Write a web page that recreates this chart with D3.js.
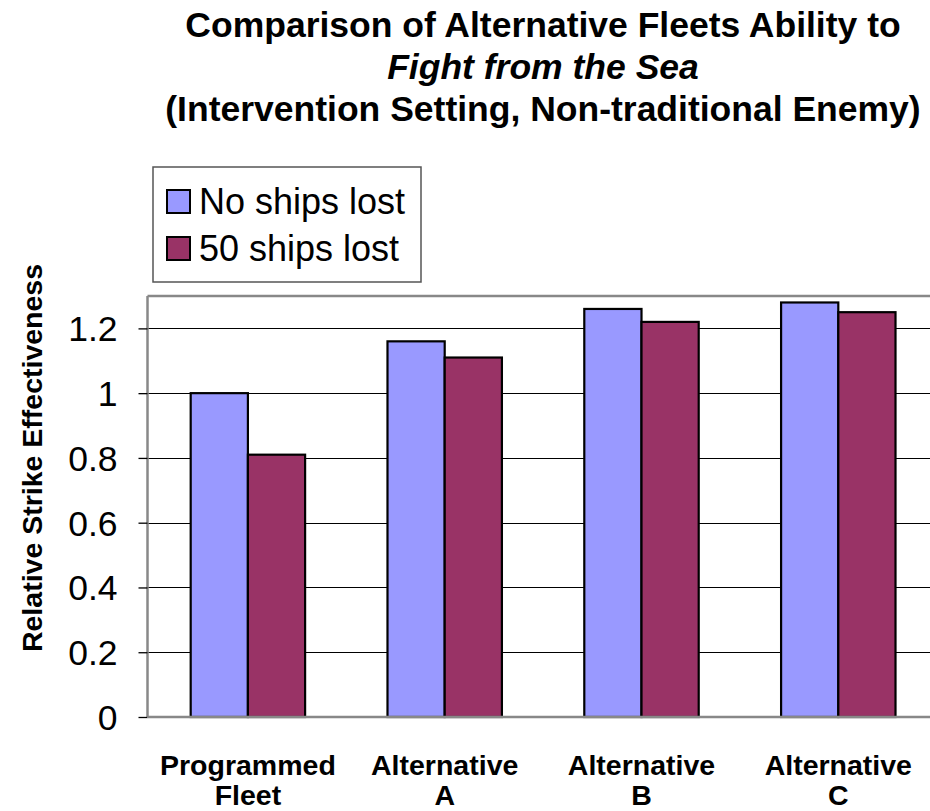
<!DOCTYPE html>
<html>
<head>
<meta charset="utf-8">
<script src="https://cdn.jsdelivr.net/npm/d3@7"></script>
<style>
  html, body { margin: 0; padding: 0; background: #fff; }
  svg { display: block; font-family: "Liberation Sans", Arial, sans-serif; }
</style>
</head>
<body>
<svg id="chart" width="930" height="811"></svg>
<script>
const categories = [["Programmed", "Fleet"], ["Alternative", "A"], ["Alternative", "B"], ["Alternative", "C"]];
const seriesNames = ["No ships lost", "50 ships lost"];
const noShipsLost = [1.00, 1.16, 1.26, 1.28];
const fiftyShipsLost = [0.81, 1.11, 1.22, 1.25];
const yTicks = [0, 0.2, 0.4, 0.6, 0.8, 1, 1.2];
const yMax = 1.3;
const colors = ["#9999FF", "#993366"];
const titleLines = ["Comparison of Alternative Fleets Ability to", "Fight from the Sea", "(Intervention Setting, Non-traditional Enemy)"];
const yTitle = "Relative Strike Effectiveness";

const svg = d3.select("#chart");
const W = 930;
const plot = { left: 147.5, top: 296, bottom: 717 };
const catKeys = categories.map((c, i) => "c" + i);
const step = 196.8;

const x0 = d3.scaleBand().domain(catKeys).range([149.5, 149.5 + step * 4]).padding(0);
const x1 = d3.scaleBand().domain(seriesNames).range([0, x0.bandwidth()]).paddingInner(0).paddingOuter(0.72);
const y = d3.scaleLinear().domain([0, yMax]).range([plot.bottom, plot.top]);

// gridlines
svg.append("g").selectAll("line").data(yTicks.filter(d => d > 0)).join("line")
  .attr("x1", plot.left).attr("x2", W)
  .attr("y1", d => Math.round(y(d)) + 0.5).attr("y2", d => Math.round(y(d)) + 0.5)
  .attr("stroke", "#000").attr("stroke-width", 1.2);

// top border
svg.append("line").attr("x1", plot.left).attr("x2", W)
  .attr("y1", y(yMax)).attr("y2", y(yMax))
  .attr("stroke", "#888").attr("stroke-width", 2.5);

// bars
const data = categories.map((c, i) => ({ key: catKeys[i], vals: [noShipsLost[i], fiftyShipsLost[i]] }));
const groups = svg.append("g").selectAll("g").data(data).join("g")
  .attr("transform", d => `translate(${x0(d.key)},0)`);
groups.selectAll("rect").data(d => d.vals.map((v, j) => ({ v, s: seriesNames[j], j }))).join("rect")
  .attr("x", d => x1(d.s))
  .attr("width", x1.bandwidth())
  .attr("y", d => y(d.v))
  .attr("height", d => y(0) - y(d.v))
  .attr("fill", d => colors[d.j])
  .attr("stroke", "#000").attr("stroke-width", 2.2);

// y axis
const yAxis = d3.axisLeft(y).tickValues(yTicks).tickSize(9).tickPadding(0).tickFormat(d3.format("~g"));
const ya = svg.append("g").attr("transform", `translate(${plot.left},0)`).call(yAxis);
ya.select(".domain").attr("stroke", "#888").attr("stroke-width", 2.5)
  .attr("d", `M0,${plot.top}V${plot.bottom}`);
ya.selectAll(".tick line").attr("stroke", "#000").attr("stroke-width", 1.3);
ya.selectAll(".tick text").attr("x", -30).attr("dy", "0.35em")
  .attr("font-size", 35.5).attr("fill", "#000")
  .attr("font-family", "'Liberation Sans', Arial, sans-serif");

// x axis
const xAxis = d3.axisBottom(x0).tickSize(0).tickFormat("");
const xa = svg.append("g").attr("transform", `translate(0,${plot.bottom})`).call(xAxis);
xa.select(".domain").attr("stroke", "#888").attr("stroke-width", 2.5)
  .attr("d", `M${plot.left},0H${W}`);

// category labels
const catLabels = svg.append("g").selectAll("text").data(data).join("text")
  .attr("x", d => x0(d.key) + x0.bandwidth() / 2)
  .attr("y", 775)
  .attr("text-anchor", "middle")
  .attr("font-size", 28.5).attr("font-weight", "bold").attr("fill", "#000");
catLabels.each(function(d, i) {
  const t = d3.select(this);
  categories[i].forEach((line, k) => {
    t.append("tspan").attr("x", x0(d.key) + x0.bandwidth() / 2).attr("dy", k === 0 ? 0 : 30).text(line);
  });
});

// y title
svg.append("text")
  .attr("transform", "translate(42,458) rotate(-90)")
  .attr("text-anchor", "middle")
  .attr("font-size", 28.5).attr("font-weight", "bold").attr("fill", "#000")
  .text(yTitle);

// title
const titleY = [37, 79, 121];
titleLines.forEach((line, i) => {
  svg.append("text")
    .attr("x", 543).attr("y", titleY[i])
    .attr("text-anchor", "middle")
    .attr("font-size", 35.5).attr("font-weight", "bold")
    .attr("font-style", i === 1 ? "italic" : "normal")
    .attr("fill", "#000")
    .text(line);
});

// legend
const lg = svg.append("g");
lg.append("rect").attr("x", 153).attr("y", 167).attr("width", 268).attr("height", 115)
  .attr("fill", "#fff").attr("stroke", "#555").attr("stroke-width", 1.5);
const itemY = [190, 237];
seriesNames.forEach((s, i) => {
  lg.append("rect").attr("x", 167).attr("y", itemY[i]).attr("width", 23).attr("height", 23)
    .attr("fill", colors[i]).attr("stroke", "#000").attr("stroke-width", 2);
  lg.append("text").attr("x", 199).attr("y", itemY[i] + 23.5)
    .attr("font-size", 36).attr("fill", "#000").text(s);
});
</script>
</body>
</html>
